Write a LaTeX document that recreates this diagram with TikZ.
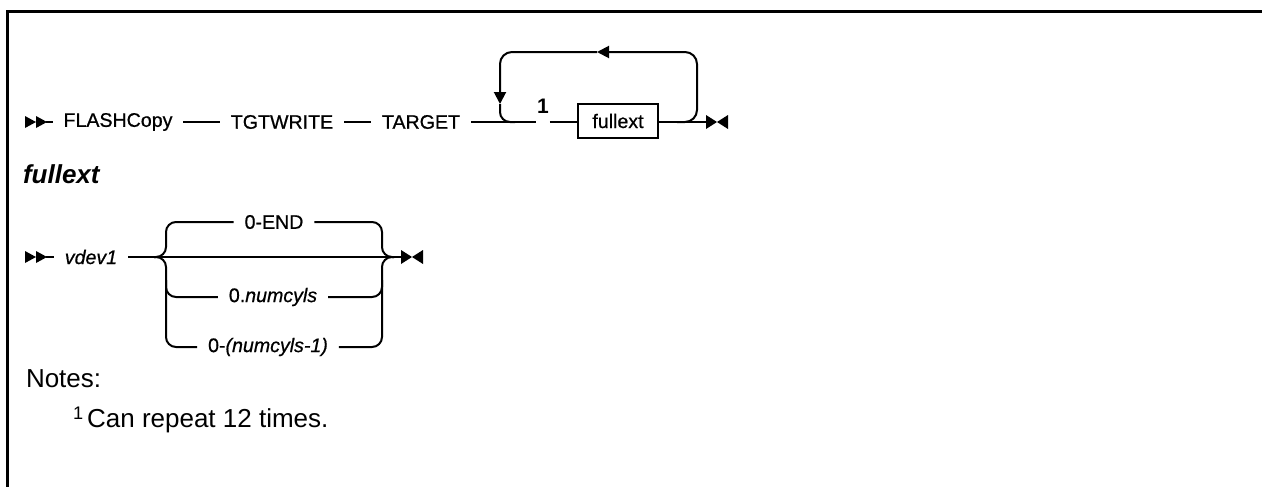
\documentclass[tikz,border=0pt]{standalone}
\usepackage{fontspec}
\setmainfont{Liberation Sans}
\newfontfamily\railfont{Liberation Sans}[FakeBold=0.7]
\usetikzlibrary{arrows.meta}

\begin{document}
\begin{tikzpicture}[x=0.5pt, y=-0.5pt, line width=1pt,
  kw/.style={inner sep=0pt, inner xsep=5pt, font=\railfont\fontsize{9.8}{11}\selectfont},
  var/.style={kw, font=\railfont\fontsize{9.8}{11}\selectfont\itshape},
  boxed/.style={draw, kw, minimum width=40pt, minimum height=17pt},
  rail/.style={rounded corners=5pt},
  loop/.style={rounded corners=6pt, -{Triangle[length=6pt, width=6pt]}},
  note/.style={inner sep=0pt, anchor=west, font=\fontsize{13}{15}\selectfont},
  startmark/.pic={\fill (0,-6) -- (11,0) -- (0,6) -- cycle; \fill (11,-6) -- (22,0) -- (11,6) -- cycle;},
  endmark/.pic={\fill (0,-7) -- (11,0) -- (0,7) -- cycle; \fill (22,-7) -- (11,0) -- (22,7) -- cycle;}
]
\useasboundingbox (0,0) rectangle (1262,487);
\draw[line width=1.5pt] (1262,11.5) -- (7.5,11.5) -- (7.5,487);

% main statement
\pic at (25,122) {startmark};
\coordinate (s1) at (46,122);
\node[kw] (flash) at (118,122) {FLASHCopy};
\node[kw] (tgtw) at (282,122) {TGTWRITE};
\node[kw] (target) at (421,122) {TARGET};
\node[kw, inner xsep=0pt, font=\fontsize{10.5}{12}\selectfont\bfseries, anchor=base] (one) at (543,113) {1};
\node[boxed] (ext) at (618,121) {fullext};
\coordinate (e1) at (706,122);
\draw (s1) -- (flash);
\draw (flash) -- (tgtw);
\draw (tgtw) -- (target);
\draw (target) -- (one.west |- target);
\draw (one.east |- target) -- (ext.west |- target);
\draw (ext.east |- target) -- (e1);
\pic at (e1) {endmark};
% repeat loop
\coordinate (jr) at (677,122);
\coordinate (jl) at (515,122);
\coordinate (tip1) at (597,52);
\coordinate (tip2) at (500,104);
\draw[loop] (jr) -- (697,122) -- (697,52) -- (tip1);
\draw[loop] (tip1) -- (500,52) -- (tip2);
\draw[rail] (tip2) -- (500,122) -- (jl);

\node[anchor=base west, inner sep=0pt, font=\fontsize{13}{15}\selectfont\bfseries\itshape] (head) at (22,183) {fullext};

% fullext fragment
\pic at (25,257) {startmark};
\coordinate (s2) at (46,257);
\node[var] (vdev) at (91,257) {vdev1};
\node[kw] (dflt) at (274,222) {0-END};
\node[kw] (ncyl) at (273,297) {0.\textit{numcyls}};
\node[kw] (ncylm) at (268,347) {0-\textit{(numcyls-1)}};
\coordinate (e2) at (401,257);
\draw (s2) -- (vdev);
\draw (vdev) -- (e2);
\pic at (e2) {endmark};
\draw[rail] (154,257) -- (166,257) -- (166,222) -- (dflt);
\draw[rail] (154,257) -- (166,257) -- (166,347) -- (ncylm);
\draw[rail] (166,280) -- (166,297) -- (ncyl);
\draw[rail] (dflt) -- (382,222) -- (382,257) -- (394,257);
\draw[rail] (ncylm) -- (382,347) -- (382,257) -- (394,257);
\draw[rail] (ncyl) -- (382,297) -- (382,280);

% notes
\node[note] (notes) at (25,379) {Notes:};
\node[note] (n1) at (72,420) {\textsuperscript{1}\hspace{1.5pt}Can repeat 12 times.};
\end{tikzpicture}
\end{document}
